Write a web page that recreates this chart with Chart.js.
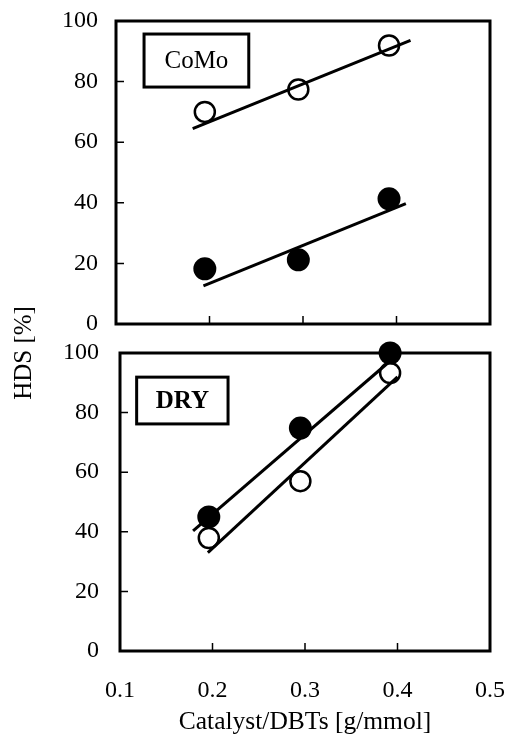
<!DOCTYPE html>
<html><head><meta charset="utf-8">
<script src="https://cdn.jsdelivr.net/npm/chart.js@4"></script>
<style>
html,body{margin:0;padding:0;background:#fff;}
#wrap{position:relative;width:508px;height:739px;background:#fff;overflow:hidden;}
canvas{position:absolute;left:0;top:0;}
#ytitle{position:absolute;left:-37px;top:338px;width:120px;height:30px;line-height:30px;text-align:center;
font-family:'Liberation Serif',serif;font-size:25px;color:#000;transform:rotate(-90deg);transform-origin:50% 50%;white-space:nowrap;}
</style></head>
<body>
<div id="wrap">
<canvas id="cTop" width="508" height="739"></canvas>
<canvas id="cBot" width="508" height="739"></canvas>
<div id="ytitle">HDS [%]</div>
</div>
<script>
// ---- data ----
const xTicks = [0.1, 0.2, 0.3, 0.4, 0.5];
const yTicks = [0, 20, 40, 60, 80, 100];

// CoMo panel
const comoX = [0.195, 0.295, 0.392];
const comoOpen = [70, 77.4, 91.9];
const comoFilled = [18.2, 21.2, 41.3];
const comoOpenFitX = [0.182, 0.415];
const comoOpenFitY = [64.5, 93.6];
const comoFilledFitX = [0.1935, 0.41];
const comoFilledFitY = [12.6, 39.7];

// DRY panel
const dryX = [0.196, 0.295, 0.392];
const dryFilled = [45, 74.8, 100];
const dryOpen = [37.9, 57.0, 93.3];
const dryFilledFitX = [0.179, 0.402];
const dryFilledFitY = [40.3, 100];
const dryOpenFitX = [0.195, 0.40];
const dryOpenFitY = [33, 92];

const FONT = "'Liberation Serif', 'Times New Roman', serif";
const pts = (xs, ys) => xs.map((x, i) => ({x: x, y: ys[i]}));

function frameAndTicks(label, box, bold) {
  return {
    id: 'frame',
    beforeDatasetsDraw(chart) {
      const ctx = chart.ctx, a = chart.chartArea;
      const xs = chart.scales.x, ys = chart.scales.y;
      ctx.save();
      ctx.strokeStyle = '#000';
      ctx.lineWidth = 3;
      ctx.strokeRect(a.left, a.top, a.right - a.left, a.bottom - a.top);
      ctx.lineWidth = 1.5;
      ctx.beginPath();
      xTicks.slice(1, -1).forEach(v => {
        const px = xs.getPixelForValue(v);
        ctx.moveTo(px, a.bottom); ctx.lineTo(px, a.bottom - 8);
      });
      yTicks.slice(1, -1).forEach(v => {
        const py = ys.getPixelForValue(v);
        ctx.moveTo(a.left, py); ctx.lineTo(a.left + 8, py);
      });
      ctx.stroke();
      // label box
      const x0 = xs.getPixelForValue(box[0]), x1 = xs.getPixelForValue(box[1]);
      const y0 = ys.getPixelForValue(box[3]), y1 = ys.getPixelForValue(box[2]);
      ctx.lineWidth = 3;
      ctx.strokeRect(x0, y0, x1 - x0, y1 - y0);
      ctx.fillStyle = '#000';
      ctx.font = (bold ? 'bold ' : '') + '25px ' + FONT;
      ctx.textAlign = 'center';
      ctx.textBaseline = 'middle';
      ctx.fillText(label, (x0 + x1) / 2, (y0 + y1) / 2 + 1);
      ctx.restore();
    }
  };
}

function datasets(xs, openY, filledY, openFit, filledFit) {
  const lineDs = (d) => ({type: 'scatter', data: d, showLine: true, borderColor: '#000', borderWidth: 3,
    pointRadius: 0, pointHoverRadius: 0, clip: false});
  return [
    lineDs(openFit),
    lineDs(filledFit),
    {type: 'scatter', data: pts(xs, openY), pointStyle: 'circle', pointRadius: 10, pointBorderWidth: 2.5,
      pointBorderColor: '#000', pointBackgroundColor: 'rgba(0,0,0,0)', borderColor: '#000',
      backgroundColor: 'rgba(0,0,0,0)', clip: false},
    {type: 'scatter', data: pts(xs, filledY), pointStyle: 'circle', pointRadius: 11.5, pointBorderWidth: 0,
      pointBorderColor: '#000', pointBackgroundColor: '#000', backgroundColor: '#000', clip: false}
  ];
}

const yScale = (w, pad) => ({
  min: 0, max: 100,
  ticks: {stepSize: 20, color: '#000', font: {family: FONT, size: 24}, padding: pad},
  grid: {display: false, drawTicks: false}, border: {display: false},
  afterFit(s) { s.width = w; s.paddingTop = 0; s.paddingBottom = 0; }
});

new Chart(document.getElementById('cTop'), {
  type: 'scatter',
  data: {datasets: datasets(comoX, comoOpen, comoFilled,
    pts(comoOpenFitX, comoOpenFitY), pts(comoFilledFitX, comoFilledFitY))},
  options: {
    responsive: false, animation: false, events: [],
    layout: {autoPadding: false, padding: {left: 0, top: 21, right: 18, bottom: 415}},
    plugins: {legend: {display: false}, tooltip: {enabled: false}},
    scales: {
      x: {type: 'linear', min: 0.1, max: 0.5, display: false},
      y: yScale(116, 18)
    }
  },
  plugins: [frameAndTicks('CoMo', [0.130, 0.242, 78.2, 95.7], false)]
});

new Chart(document.getElementById('cBot'), {
  type: 'scatter',
  data: {datasets: datasets(dryX, dryOpen, dryFilled,
    pts(dryOpenFitX, dryOpenFitY), pts(dryFilledFitX, dryFilledFitY))},
  options: {
    responsive: false, animation: false, events: [],
    layout: {autoPadding: false, padding: {left: 0, top: 353, right: 18, bottom: 0}},
    plugins: {legend: {display: false}, tooltip: {enabled: false}},
    scales: {
      x: {type: 'linear', min: 0.1, max: 0.5,
        afterBuildTicks(s) { s.ticks = xTicks.map(v => ({value: v})); },
        ticks: {color: '#000', font: {family: FONT, size: 24}, padding: 25, maxRotation: 0,
          callback: v => v.toFixed(1)},
        grid: {display: false, drawTicks: false}, border: {display: false},
        title: {display: true, text: 'Catalyst/DBTs [g/mmol]', color: '#000',
          font: {family: FONT, size: 25.5}, padding: {top: 0, bottom: 1}},
        afterFit(s) { s.height = 88; s.paddingLeft = 0; s.paddingRight = 0; }
      },
      y: yScale(120, 21)
    }
  },
  plugins: [frameAndTicks('DRY', [0.118, 0.2168, 76.2, 91.9], true)]
});
</script>
</body></html>
